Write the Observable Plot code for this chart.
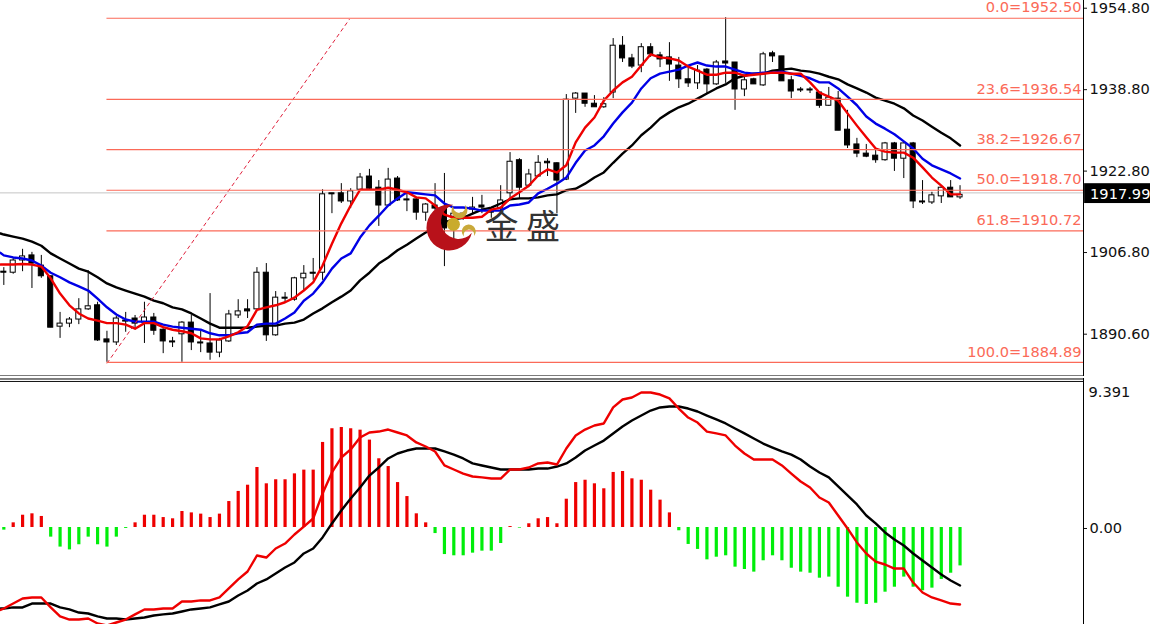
<!DOCTYPE html>
<html>
<head>
<meta charset="utf-8">
<script src="https://cdn.jsdelivr.net/npm/d3@7"></script>
<script src="https://cdn.jsdelivr.net/npm/@observablehq/plot@0.6"></script>
<style>
  html,body{margin:0;padding:0;background:#fff;}
  #chart{position:relative;width:1150px;height:624px;overflow:hidden;background:#fff;}
  #chart svg{position:absolute;left:0;display:block;max-width:none;background:transparent;}
</style>
</head>
<body>
<div id="chart"></div>
<script>
const opens = [1902.9,1902.7,1905.1,1906.1,1904.1,1902.0,1892.1,1892.7,1893.5,1895.5,
1896.3,1889.6,1889.0,1893.3,1893.7,1892.9,1893.9,1891.5,1889.2,1890.6,
1892.9,1889.0,1888.8,1887.0,1889.2,1894.3,1895.5,1895.5,1902.7,1890.4,
1897.8,1897.4,1901.6,1902.7,1902.7,1918.3,1918.3,1916.7,1919.0,1921.6,
1919.4,1915.9,1921.2,1917.1,1917.1,1914.5,1915.9,1915.5,1913.7,1913.4,
1915.1,1915.9,1914.9,1915.3,1918.3,1924.8,1919.8,1921.6,1924.5,1924.2,
1921.0,1936.9,1937.9,1935.9,1935.2,1938.1,1947.3,1944.8,1943.4,1947.0,
1945.4,1945.0,1943.4,1940.7,1939.9,1942.6,1939.7,1944.2,1944.0,1938.7,
1940.7,1939.5,1945.8,1945.2,1940.5,1938.7,1938.7,1938.1,1935.5,1936.9,
1930.8,1927.9,1926.1,1925.7,1924.8,1928.1,1925.1,1928.1,1916.7,1916.5,
1917.7,1919.4,1917.5];
const highs = [1903.7,1905.5,1907.3,1906.7,1906.1,1902.0,1894.9,1893.9,1897.6,1903.1,
1896.9,1891.2,1894.1,1894.9,1894.3,1896.9,1894.7,1891.7,1890.0,1893.1,
1894.3,1891.3,1898.6,1889.8,1895.3,1897.4,1897.4,1903.7,1904.5,1899.0,
1898.8,1901.8,1904.1,1905.5,1919.0,1918.3,1920.2,1919.2,1922.2,1923.0,
1920.8,1923.2,1921.6,1918.5,1917.5,1916.3,1920.2,1922.2,1914.5,1914.5,
1917.5,1917.9,1915.3,1919.8,1926.3,1925.1,1923.0,1925.7,1925.1,1924.3,
1937.7,1938.1,1937.9,1937.5,1937.1,1948.7,1949.1,1945.6,1947.7,1947.7,
1946.0,1947.9,1945.0,1943.4,1943.4,1942.8,1944.4,1952.8,1944.0,1941.3,
1940.9,1946.0,1946.2,1945.2,1941.3,1939.1,1939.1,1938.1,1939.1,1938.3,
1934.6,1929.1,1927.9,1926.9,1928.3,1928.3,1928.3,1928.3,1920.8,1918.5,
1919.8,1920.8,1919.8];
const lows = [1900.2,1902.4,1902.9,1899.6,1901.6,1891.9,1889.8,1891.9,1892.5,1895.3,
1889.2,1885.1,1888.4,1891.0,1891.5,1888.8,1890.4,1886.8,1888.0,1885.1,
1887.4,1887.0,1885.5,1886.0,1889.0,1893.7,1893.7,1895.3,1889.2,1890.2,
1896.9,1897.1,1899.2,1901.2,1901.2,1914.3,1916.3,1915.3,1918.9,1918.9,
1911.8,1915.9,1916.7,1914.7,1913.0,1912.8,1914.9,1903.9,1909.0,1913.0,
1914.3,1914.3,1913.4,1914.7,1917.3,1917.3,1919.4,1921.4,1921.6,1914.3,
1920.8,1934.0,1935.2,1935.2,1935.0,1936.9,1944.0,1942.8,1942.0,1945.0,
1943.0,1940.3,1938.9,1939.1,1938.7,1937.9,1939.5,1939.9,1934.6,1937.3,
1939.7,1939.3,1944.0,1940.3,1936.9,1938.1,1937.9,1935.0,1935.4,1930.6,
1927.1,1925.3,1925.3,1924.2,1924.6,1922.6,1921.2,1915.3,1916.1,1916.1,
1916.3,1917.5,1917.1];
const closes = [1902.7,1905.1,1905.9,1904.5,1902.0,1891.9,1892.7,1893.5,1895.5,1896.1,
1889.4,1889.0,1893.7,1893.1,1892.7,1893.9,1891.3,1889.2,1889.0,1892.9,
1889.0,1888.8,1887.0,1889.4,1894.5,1895.1,1895.1,1902.7,1890.4,1897.8,
1897.6,1901.6,1902.5,1902.5,1918.1,1918.1,1916.7,1918.7,1921.4,1919.2,
1915.9,1921.0,1916.9,1916.9,1914.5,1916.1,1915.3,1911.4,1914.3,1914.3,
1915.5,1915.5,1914.5,1916.9,1924.5,1919.4,1922.0,1924.3,1924.2,1920.8,
1936.7,1937.9,1935.9,1935.2,1935.8,1947.3,1944.8,1943.2,1947.0,1945.6,
1944.6,1943.6,1940.7,1939.9,1942.4,1939.7,1944.0,1943.8,1938.7,1940.5,
1939.7,1945.6,1945.2,1940.3,1938.3,1938.5,1938.5,1935.5,1937.1,1930.6,
1927.7,1926.1,1925.5,1924.8,1928.1,1925.1,1928.1,1916.7,1916.5,1917.9,
1919.4,1917.5,1918.0];
const maFast = [1904.3,1904.3,1904.4,1904.3,1903.9,1901.6,1898.6,1896.3,1894.7,1893.7,
1893.3,1892.8,1892.8,1892.5,1891.7,1892.8,1892.8,1892.0,1891.5,1891.2,
1890.8,1889.8,1889.6,1889.6,1890.2,1891.0,1892.2,1895.4,1895.9,1896.3,
1896.9,1897.8,1899.2,1900.8,1904.1,1908.4,1912.4,1915.9,1919.0,1919.0,
1919.0,1919.4,1919.0,1918.5,1917.5,1917.3,1915.9,1914.1,1913.5,1913.5,
1913.5,1913.7,1915.1,1915.5,1917.3,1918.5,1919.8,1921.8,1923.0,1922.4,
1923.8,1928.3,1931.2,1933.2,1936.5,1938.5,1940.1,1941.2,1943.4,1945.6,
1945.0,1944.8,1944.4,1943.2,1942.4,1941.6,1941.6,1942.0,1942.0,1941.4,
1941.6,1941.8,1942.0,1942.0,1941.8,1941.8,1940.1,1938.1,1937.3,1936.5,
1934.0,1931.6,1929.3,1927.1,1926.5,1926.3,1926.3,1925.3,1923.4,1921.4,
1919.8,1918.1,1918.1];
const maMid = [1906.1,1905.7,1905.5,1905.1,1904.1,1902.7,1901.8,1900.8,1900.0,1899.2,
1897.6,1895.9,1894.5,1893.5,1893.1,1893.1,1893.1,1892.5,1892.1,1891.9,
1891.7,1891.5,1890.8,1890.4,1890.4,1890.8,1891.0,1892.5,1892.7,1892.7,
1893.7,1894.9,1897.2,1898.6,1900.8,1903.5,1905.5,1906.5,1909.6,1912.0,
1913.9,1915.9,1917.3,1918.5,1918.3,1918.1,1917.9,1916.3,1915.5,1915.5,
1915.3,1914.9,1914.9,1914.9,1915.9,1916.1,1916.5,1918.3,1919.2,1920.2,
1921.4,1924.3,1926.7,1927.7,1929.5,1932.0,1934.2,1936.1,1938.9,1940.9,
1941.8,1942.2,1942.6,1943.4,1944.0,1943.4,1943.2,1943.2,1942.6,1942.0,
1941.8,1942.0,1942.0,1942.2,1941.8,1941.4,1940.9,1940.1,1940.1,1938.9,
1937.3,1935.6,1933.4,1932.0,1931.0,1929.9,1928.5,1927.1,1925.1,1923.8,
1923.0,1922.2,1921.2];
const maSlow = [1910.2,1909.8,1909.4,1908.8,1908.0,1906.5,1905.5,1904.5,1903.5,1902.9,
1901.8,1900.6,1899.8,1899.2,1898.6,1898.0,1897.2,1896.7,1895.9,1895.5,
1894.7,1893.7,1892.7,1891.9,1891.9,1891.9,1891.9,1892.1,1892.3,1892.3,
1892.7,1892.9,1893.5,1894.7,1895.7,1896.9,1898.0,1899.2,1901.2,1902.7,
1904.5,1905.7,1907.1,1908.2,1909.4,1910.6,1912.0,1912.6,1913.2,1913.5,
1914.3,1915.1,1915.5,1916.3,1917.1,1917.3,1917.3,1917.5,1917.9,1918.1,
1918.9,1919.2,1920.2,1921.4,1922.4,1924.3,1926.1,1927.7,1929.7,1931.2,
1933.0,1934.2,1935.2,1935.9,1936.9,1937.9,1938.9,1939.7,1940.9,1941.4,
1941.8,1941.8,1942.4,1942.6,1942.8,1942.4,1942.2,1941.8,1941.2,1940.7,
1939.7,1938.9,1938.1,1937.1,1936.5,1935.9,1935.0,1933.6,1932.6,1931.4,
1930.2,1929.1,1927.7];
const macdHist = [-0.17,0.30,0.79,0.88,0.71,-0.62,-1.26,-1.44,-1.11,-0.62,
-1.11,-1.26,-0.62,-0.06,0.30,0.79,0.79,0.64,0.56,1.03,
0.94,0.86,0.64,0.86,1.67,2.32,2.72,3.86,2.81,3.07,
3.07,3.45,3.69,3.69,5.47,6.35,6.43,6.35,6.26,5.62,
4.42,3.92,2.89,1.99,0.88,0.30,-0.39,-1.74,-1.82,-1.82,
-1.65,-1.52,-1.52,-1.03,0.06,-0.04,0.24,0.56,0.64,0.24,
1.82,2.89,3.04,2.81,2.49,3.54,3.60,3.13,3.04,2.40,
1.76,0.94,-0.21,-1.09,-1.41,-2.08,-1.91,-1.82,-2.55,-2.70,
-2.87,-2.14,-1.82,-2.14,-2.62,-2.87,-2.94,-3.26,-3.19,-3.84,
-4.48,-4.87,-4.95,-4.87,-4.16,-3.84,-3.19,-3.84,-4.07,-3.90,
-3.34,-2.94,-2.47];
const macdLine = [-5.21,-4.89,-4.57,-4.50,-4.50,-5.14,-5.72,-5.92,-5.92,-5.85,
-6.17,-6.30,-6.11,-5.92,-5.59,-5.27,-5.27,-5.21,-5.21,-4.76,
-4.76,-4.69,-4.69,-4.50,-3.92,-3.34,-2.83,-1.80,-1.93,-1.35,
-1.03,-0.45,0.06,0.58,2.19,3.54,4.50,5.02,5.79,6.11,
6.17,6.30,6.11,5.92,5.47,5.21,4.89,3.99,3.73,3.47,
3.28,3.22,3.15,3.15,3.73,3.73,3.86,4.12,4.18,4.05,
5.08,5.92,6.30,6.56,6.69,7.72,8.23,8.36,8.68,8.68,
8.55,8.30,7.65,7.07,6.75,6.17,6.05,5.92,5.27,4.76,
4.37,4.37,4.37,3.99,3.47,2.96,2.57,1.93,1.61,0.77,
-0.06,-0.96,-1.67,-2.19,-2.38,-2.64,-2.64,-3.54,-4.18,-4.50,
-4.69,-4.89,-4.95];
const macdSignal = [-5.21,-5.14,-5.14,-4.89,-4.89,-4.89,-5.14,-5.27,-5.47,-5.53,
-5.72,-5.85,-5.85,-5.92,-5.85,-5.79,-5.66,-5.59,-5.53,-5.40,
-5.27,-5.21,-5.14,-4.95,-4.76,-4.37,-4.05,-3.60,-3.34,-2.96,
-2.57,-2.25,-1.67,-1.35,-0.64,0.26,1.09,1.86,2.57,3.34,
3.86,4.44,4.76,4.95,5.08,5.08,5.08,4.89,4.69,4.44,
4.12,3.99,3.86,3.73,3.73,3.73,3.73,3.79,3.79,3.92,
4.12,4.50,4.95,5.27,5.59,6.05,6.50,6.88,7.20,7.52,
7.72,7.78,7.78,7.65,7.46,7.20,6.95,6.69,6.37,6.05,
5.72,5.40,5.14,4.89,4.69,4.37,3.92,3.54,3.22,2.64,
2.06,1.48,0.77,0.26,-0.32,-0.77,-1.16,-1.67,-2.12,-2.57,
-3.02,-3.41,-3.73];
// values of each line where it enters at the chart's left edge
const edgeFast = 1904.3, edgeMid = 1906.6, edgeSlow = 1910.4, edgeMacd = -5.3, edgeSignal = -5.21;

const fibPct = ["0.0","23.6","38.2","50.0","61.8","100.0"];
const fibVal = [1952.50,1936.54,1926.67,1918.70,1910.72,1884.89];
const fibStart = 11;
const trend = {i1:11, p1:1884.89, i2:36.87, p2:1952.50};
const priceTicks = [1954.80,1938.80,1922.80,1906.80,1890.76];
const priceTickLabels = ["1954.80","1938.80","1922.80","1906.80","1890.60"];
const lastPrice = 1917.99;
const logoText = "金 盛";

const idx = d3.range(opens.length);
const fibs = fibPct.map((p,k)=>({p, v:fibVal[k]}));
const xDomain = [-0.355, 115.17];
const xEdge = xDomain[1], xFar = 122.4;
const font = "'DejaVu Sans', sans-serif";
const fs = 14.6;
const fibColor = "#fb6a58";
const series = (vals, edge) => [{x:xDomain[0], y:edge}, ...vals.map((y,x)=>({x,y}))];

// crescent symbol for the watermark logo
const crescent = {draw(ctx, size){
  const R = Math.sqrt(size/Math.PI), k = R/23;
  const rad = a => a*Math.PI/180;
  ctx.arc(0,0,R,rad(13.3),rad(279.3));
  ctx.arc(9*k,-6*k,17.5*k,rad(252.4),rad(40),true);
  ctx.closePath();
}};

const topPanel = Plot.plot({
  width:1150, height:376, marginTop:0, marginBottom:0, marginLeft:0, marginRight:67,
  style:{background:"transparent", fontFamily:font},
  x:{domain:xDomain, axis:null},
  y:{domain:[1882.31,1956.18], axis:null},
  marks:[
    Plot.axisY(priceTicks,{anchor:"right", label:null, tickSize:3, tickPadding:3, fontSize:fs, stroke:"#111", fill:"#111", dy:0.7,
      tickFormat:d=>priceTickLabels[priceTicks.indexOf(d)]}),
    Plot.ruleY([lastPrice],{x1:xDomain[0], x2:xEdge, dy:-2, stroke:"#c4c4c4", strokeWidth:1}),
    Plot.ruleX(idx,{x:i=>i, y1:i=>lows[i], y2:i=>highs[i], stroke:"#000", strokeWidth:1}),
    Plot.rect(idx,{x1:i=>i-0.27, x2:i=>i+0.27, y1:i=>opens[i], y2:i=>closes[i],
      fill:i=>closes[i]>=opens[i]?"#fff":"#000", stroke:"#000", strokeWidth:1}),
    Plot.line(series(maSlow,edgeSlow),{x:"x", y:"y", stroke:"#000", strokeWidth:2.4}),
    Plot.line(series(maMid,edgeMid),{x:"x", y:"y", stroke:"#0000e6", strokeWidth:2.4}),
    Plot.line(series(maFast,edgeFast),{x:"x", y:"y", stroke:"#ee0000", strokeWidth:2.4}),
    Plot.link([trend],{x1:"i1", y1:"p1", x2:"i2", y2:"p2", stroke:"#e0203c", strokeWidth:1, strokeDasharray:"4,3"}),
    Plot.ruleY(fibs,{y:"v", x1:fibStart, x2:xEdge, dy:-1, stroke:fibColor, strokeWidth:1.2}),
    Plot.text(fibs,{x:xEdge, y:"v", text:d=>`${d.p}=${d.v.toFixed(2)}`, textAnchor:"end", dx:-2, dy:-11.5,
      fill:fibColor, fontSize:fs}),
    Plot.dot([{i:47.54,p:1911.6}],{x:"i", y:"p", r:23, symbol:crescent, fill:"#b8111a", stroke:null}),
    Plot.dot([{i:48.6,p:1914.9}],{x:"i", y:"p", r:8, symbol:crescent, fill:"#c9a93a", stroke:null, rotate:-60}),
    Plot.dot([{i:47.96,p:1912.2}],{x:"i", y:"p", r:6.5, fill:"#c9ab2c"}),
    Plot.dot([{i:49.6,p:1910.8}],{x:"i", y:"p", r:7, symbol:crescent, fill:"#c9a93a", stroke:null, rotate:120}),
    Plot.text([logoText],{x:55.3, y:1911.4, text:d=>d, fontSize:34, fill:"#333",
      fontFamily:"'Noto Sans CJK SC'", fontWeight:400}),
    Plot.ruleX([xEdge],{stroke:"#000", strokeWidth:1}),
    Plot.ruleY([1882.41],{x1:xDomain[0], x2:xEdge, stroke:"#000", strokeWidth:1}),
    Plot.rect([lastPrice],{x1:xEdge+0.12, x2:xFar, y1:d=>d-1.7, y2:d=>d+2.2, fill:"#000"}),
    Plot.text([lastPrice],{x:xEdge+0.7, y:d=>d, dy:-0.8, text:d=>d.toFixed(2), textAnchor:"start", fill:"#fff", fontSize:fs})
  ]
});
topPanel.style.top = "0px";

const bottomPanel = Plot.plot({
  width:1150, height:246, marginTop:0, marginBottom:0, marginLeft:0, marginRight:67,
  style:{background:"transparent", fontFamily:font},
  x:{domain:xDomain, axis:null},
  y:{domain:[-6.238,9.582], axis:null},
  marks:[
    Plot.axisY([0],{anchor:"right", label:null, tickSize:3, tickPadding:3, fontSize:fs, stroke:"#111", fill:"#111", dy:1,
      tickFormat:()=>"0.00"}),
    Plot.tickY([9.391],{x1:xEdge, x2:xEdge+0.3, stroke:"#111"}),
    Plot.text([9.391],{x:xEdge, y:d=>d, dx:5, dy:10.5, text:d=>d.toFixed(3), textAnchor:"start", fontSize:fs, fill:"#111"}),
    Plot.ruleX(idx,{x:i=>i, y1:0, y2:i=>macdHist[i], stroke:i=>macdHist[i]>=0?"#ee0000":"#00ee0a", strokeWidth:3.2}),
    Plot.line(series(macdSignal,edgeSignal),{x:"x", y:"y", stroke:"#000", strokeWidth:2.4, clip:true}),
    Plot.line(series(macdLine,edgeMacd),{x:"x", y:"y", stroke:"#ee0000", strokeWidth:2.4, clip:true}),
    Plot.ruleX([xEdge],{stroke:"#000", strokeWidth:1}),
    Plot.ruleY([9.55],{x1:xDomain[0], x2:xEdge, stroke:"#000", strokeWidth:1})
  ]
});
bottomPanel.style.top = "378px";

const host = document.getElementById("chart");
host.appendChild(topPanel);
host.appendChild(bottomPanel);
</script>
</body>
</html>
